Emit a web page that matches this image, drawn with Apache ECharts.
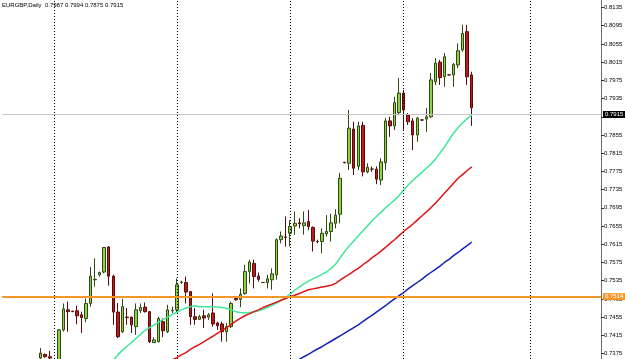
<!DOCTYPE html>
<html>
<head>
<meta charset="utf-8">
<script src="https://cdn.jsdelivr.net/npm/echarts@6/dist/echarts.min.js"></script>
<style>
html,body{margin:0;padding:0;background:#fff;}
#c{width:625px;height:359px;}
</style>
</head>
<body>
<div id="c"></div>
<script>
// ---- data (EURGBP Daily), one entry per visible bar ----
const openP = [0.7365,0.7373,0.7368,null,0.7350,0.7427,0.7471,0.7468,0.7469,0.7460,
0.7452,0.7485,0.7537,0.7548,0.7554,0.7609,0.7545,0.7466,0.7423,0.7455,
0.7455,0.7434,0.7469,0.7477,0.7467,0.7399,0.7401,0.7445,0.7423,0.7469,
0.7471,0.7531,0.7531,0.7511,0.7456,0.7450,0.7458,0.7455,0.7464,0.7442,
0.7440,0.7423,0.7434,0.7496,0.7494,0.7507,0.7555,0.7573,0.7545,0.7531,
0.7531,0.7537,0.7548,0.7625,0.7631,0.7639,0.7655,0.7662,0.7656,0.7665,
0.7652,0.7621,0.7621,0.7638,0.7643,0.7661,0.7681,0.7795,0.7793,0.7868,
0.7786,0.7876,0.7774,0.7780,0.7780,0.7756,0.7794,0.7886,0.7875,0.7904,
0.7947,0.7899,0.7886,0.7855,0.7888,0.7890,0.7895,0.7972,0.8015,0.7983,
0.7987,0.7987,0.8009,0.8042,0.8082,0.7987];
const highP = [0.7387,0.7375,0.7381,null,0.7429,0.7485,0.7489,0.7469,0.7480,0.7467,
0.7496,0.7565,0.7584,0.7555,0.7609,0.7611,0.7548,0.7486,0.7495,0.7475,
0.7456,0.7485,0.7485,0.7487,0.7468,0.7411,0.7456,0.7452,0.7482,0.7478,
0.7540,0.7535,0.7544,0.7512,0.7475,0.7460,0.7471,0.7464,0.7507,0.7445,
0.7445,0.7442,0.7489,0.7499,0.7518,0.7570,0.7581,0.7581,0.7553,0.7532,
0.7548,0.7562,0.7628,0.7643,0.7676,0.7668,0.7687,0.7672,0.7687,0.7690,
0.7654,0.7625,0.7650,0.7679,0.7682,0.7692,0.7772,0.7796,0.7910,0.7884,
0.7884,0.7884,0.7793,0.7786,0.7786,0.7804,0.7892,0.7895,0.7939,0.7980,
0.7954,0.7903,0.7892,0.7895,0.7890,0.7914,0.7991,0.8024,0.8020,0.8035,
0.7988,0.8013,0.8056,0.8097,0.8097,0.7994];
const lowP = [0.7358,0.7366,0.7360,null,0.7345,0.7423,0.7423,0.7466,0.7439,0.7420,
0.7444,0.7478,0.7522,0.7544,0.7551,0.7524,0.7438,0.7409,0.7420,0.7438,
0.7420,0.7416,0.7464,0.7465,0.7398,0.7398,0.7399,0.7411,0.7420,0.7464,
0.7464,0.7528,0.7485,0.7438,0.7438,0.7449,0.7431,0.7449,0.7434,0.7427,
0.7401,0.7401,0.7431,0.7491,0.7477,0.7504,0.7529,0.7518,0.7533,0.7530,
0.7518,0.7515,0.7537,0.7617,0.7610,0.7610,0.7636,0.7650,0.7636,0.7646,
0.7599,0.7617,0.7595,0.7632,0.7621,0.7650,0.7661,0.7793,0.7778,0.7767,
0.7778,0.7764,0.7771,0.7774,0.7747,0.7745,0.7778,0.7851,0.7866,0.7899,
0.7866,0.7877,0.7822,0.7840,0.7886,0.7862,0.7892,0.7965,0.7965,0.7961,
0.7986,0.7961,0.8002,0.8038,0.7965,0.7875];
const closeP = [0.7376,0.7368,0.7365,null,0.7427,0.7473,0.7467,0.7467,0.7458,0.7454,
0.7485,0.7545,0.7538,0.7553,0.7608,0.7545,0.7466,0.7412,0.7478,0.7454,
0.7438,0.7471,0.7476,0.7467,0.7401,0.7405,0.7452,0.7425,0.7471,0.7470,
0.7526,0.7532,0.7510,0.7456,0.7450,0.7456,0.7453,0.7460,0.7440,0.7436,
0.7423,0.7434,0.7485,0.7493,0.7505,0.7555,0.7576,0.7544,0.7538,0.7531,
0.7539,0.7550,0.7625,0.7633,0.7630,0.7654,0.7661,0.7660,0.7662,0.7654,
0.7622,0.7621,0.7639,0.7643,0.7662,0.7679,0.7760,0.7794,0.7870,0.7782,
0.7875,0.7774,0.7784,0.7780,0.7758,0.7796,0.7886,0.7875,0.7926,0.7947,
0.7910,0.7884,0.7855,0.7892,0.7888,0.7895,0.7976,0.8013,0.7981,0.8027,
0.7987,0.8010,0.8040,0.8078,0.7983,0.7915];

// moving averages, aligned with the bars above (null = not on screen)
const maGreen = [null,null,null,null,null,null,null,null,null,null,
null,null,null,null,null,
0.7348,0.7360,0.7372,0.7382,0.7391,0.7399,0.7408,0.7417,0.7426,0.7432,
0.7438,0.7444,0.7450,0.7455,0.7461,0.7465,0.7471,0.7475,0.7478,0.7480,
0.7478,0.7478,0.7478,0.7478,0.7477,0.7476,0.7474,0.7471,0.7467,0.7465,
0.7464,0.7465,0.7466,0.7469,0.7472,0.7476,0.7481,0.7486,0.7492,0.7498,
0.7506,0.7514,0.7521,0.7528,0.7534,0.7539,0.7544,0.7549,0.7554,0.7562,
0.7571,0.7585,0.7599,0.7611,0.7622,0.7633,0.7644,0.7655,0.7666,0.7676,
0.7685,0.7695,0.7704,0.7712,0.7722,0.7734,0.7745,0.7755,0.7764,0.7773,
0.7782,0.7791,0.7802,0.7815,0.7829,0.7844,0.7859,0.7871,0.7882,0.7891,
0.7898];
const maRed = [null,null,null,null,null,null,null,null,null,null,
null,null,null,null,null,null,null,null,null,null,
null,null,null,null,null,null,null,null,null,
0.7361,0.7366,0.7372,0.7377,0.7384,0.7390,0.7395,0.7401,0.7407,0.7413,
0.7420,0.7426,0.7432,0.7439,0.7446,0.7452,0.7458,0.7462,0.7467,0.7471,
0.7476,0.7480,0.7484,0.7488,0.7492,0.7496,0.7500,0.7503,0.7507,0.7511,
0.7515,0.7517,0.7519,0.7521,0.7523,0.7525,0.7529,0.7536,0.7543,0.7549,
0.7556,0.7562,0.7570,0.7577,0.7585,0.7592,0.7600,0.7608,0.7617,0.7625,
0.7634,0.7643,0.7651,0.7659,0.7668,0.7677,0.7686,0.7695,0.7705,0.7716,
0.7727,0.7738,0.7749,0.7760,0.7768,0.7777,0.7785];
const maBlue = [null,null,null,null,null,null,null,null,null,null,
null,null,null,null,null,null,null,null,null,null,
null,null,null,null,null,null,null,null,null,null,
null,null,null,null,null,null,null,null,null,null,
null,null,null,null,null,null,null,null,null,null,
null,null,null,null,null,null,null,
0.7362,0.7368,0.7373,0.7379,0.7385,0.7390,0.7396,0.7402,0.7408,0.7414,
0.7420,0.7426,0.7432,0.7438,0.7445,0.7452,0.7459,0.7466,0.7473,0.7480,
0.7488,0.7495,0.7502,0.7509,0.7517,0.7524,0.7531,0.7538,0.7546,0.7553,
0.7560,0.7567,0.7575,0.7582,0.7590,0.7597,0.7605,0.7612,0.7620];

const priceTicks = [0.8135,0.8095,0.8055,0.8015,0.7975,0.7935,0.7895,0.7855,0.7815,0.7775,
0.7735,0.7695,0.7655,0.7615,0.7575,0.7535,0.7495,0.7455,0.7415,0.7375];
const bidPrice = 0.7915;
const levelPrice = 0.7514;
const titleText = 'EURGBP,Daily  0.7987 0.7994 0.7875 0.7915';

// ---- layout: empty slots before / after the visible bars ----
const leadSlots = 8, trailSlots = 28;
const separatorSlots = [11, 38, 63, 88, 116];
const totalSlots = leadSlots + openP.length + trailSlots;
const categories = Array.from({length: totalSlots}, (_, i) => 'D' + i);

function pad(arr){
  const out = new Array(leadSlots).fill(null).concat(arr);
  while (out.length < totalSlots) out.push(null);
  return out;
}
const candleData = pad(openP.map((o, i) => o === null ? '-' : [o, closeP[i], lowP[i], highP[i]]))
  .map(v => v === null ? '-' : v);

const chart = echarts.init(document.getElementById('c'), null, {renderer: 'canvas'});
const FONT = 'Liberation Sans';
chart.setOption({
  animation: false,
  backgroundColor: '#ffffff',
  title: {
    text: titleText, left: 2, top: 2, padding: 0,
    textStyle: {fontSize: 6, fontWeight: 'normal', color: '#000', fontFamily: FONT}
  },
  grid: {left: 2.13, right: 24, top: 0, bottom: 0, containLabel: false, outerBoundsMode: 'none'},
  xAxis: {
    type: 'category', data: categories, boundaryGap: true,
    axisLine: {show: false}, axisTick: {show: false}, axisLabel: {show: false}, splitLine: {show: false}
  },
  yAxis: {
    type: 'value', position: 'right', min: 0.73630, max: 0.81515, scale: true,
    axisLine: {show: true, lineStyle: {color: '#6e6e6e', width: 1}},
    axisTick: {show: true, length: 3, inside: false, customValues: priceTicks, lineStyle: {color: '#333'}},
    axisLabel: {show: true, customValues: priceTicks, margin: 3, fontSize: 6, color: '#000', fontFamily: FONT,
      formatter: v => v.toFixed(4)},
    splitLine: {show: false}
  },
  series: [
    {
      type: 'candlestick', data: candleData, barWidth: 3, z: 2,
      itemStyle: {color: '#8fd044', color0: '#b81c1c', borderColor: '#2e4a12', borderColor0: '#5a0a0a', borderWidth: 1},
      markLine: {
        silent: true, symbol: 'none', animation: false,
        data: [
          ...separatorSlots.map(s => ({xAxis: s, lineStyle: {color: '#000', type: [1, 2], width: 1}, label: {show: false}})),
          {yAxis: bidPrice, lineStyle: {color: '#c4c4c4', type: 'solid', width: 1},
            label: {show: true, position: 'end', distance: 2, formatter: bidPrice.toFixed(4), color: '#fff',
              backgroundColor: '#000', padding: [1, 2, 0, 2], fontSize: 6, fontFamily: FONT}},
          {yAxis: levelPrice, lineStyle: {color: '#f5962a', type: 'solid', width: 2},
            label: {show: true, position: 'end', distance: 2, formatter: levelPrice.toFixed(4), color: '#fff',
              backgroundColor: '#f5962a', padding: [1, 2, 0, 2], fontSize: 6, fontFamily: FONT}}
        ]
      }
    },
    {type: 'line', data: pad(maGreen), symbol: 'none', z: 3, lineStyle: {color: '#3ee89a', width: 1.5}},
    {type: 'line', data: pad(maRed), symbol: 'none', z: 3, lineStyle: {color: '#dc1414', width: 1.5}},
    {type: 'line', data: pad(maBlue), symbol: 'none', z: 3, lineStyle: {color: '#1420b8', width: 1.5}}
  ]
});
</script>
</body>
</html>
